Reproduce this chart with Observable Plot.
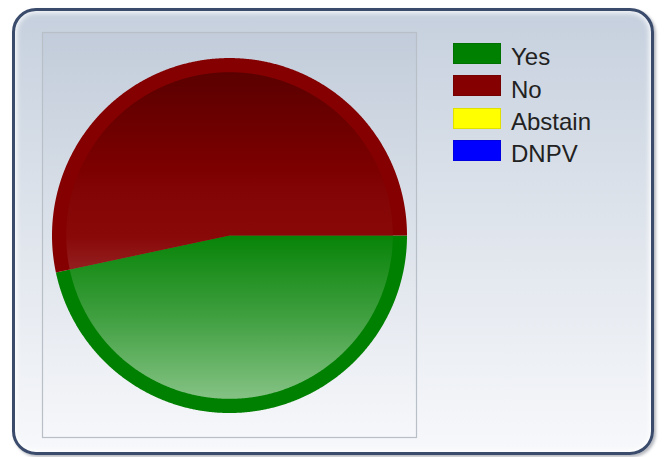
<!DOCTYPE html>
<html>
<head>
<meta charset="utf-8">
<script src="https://cdn.jsdelivr.net/npm/d3@7"></script>
<script src="https://cdn.jsdelivr.net/npm/@observablehq/plot@0.6"></script>
<style>
  html, body { margin: 0; padding: 0; background: #ffffff; }
  #wrap { position: relative; width: 664px; height: 457px; overflow: hidden; }
  #frame {
    position: absolute; left: 12px; top: 8px; width: 642px; height: 447px;
    box-sizing: border-box; border: 3px solid #3a4b6c; border-radius: 24px;
    background: linear-gradient(180deg, #c6d0de 0%, #dde3eb 45%, #f7f8fb 100%);
    box-shadow: inset 0 0 5px 2px rgba(255,255,255,0.85), 2px 2px 3px rgba(40,50,70,0.35);
  }
  #chart { position: absolute; left: 0; top: 0; }
  .sw { position: absolute; left: 453px; width: 48px; height: 21px; box-sizing: border-box; border: 1px solid rgba(0,0,0,0.12); }
  .lab { position: absolute; left: 511px; font: 24px "Liberation Sans", Arial, sans-serif; line-height: 24px; color: #222; }
</style>
</head>
<body>
<div id="wrap">
  <div id="frame"></div>
  <div id="chart"></div>
  <div id="legend"></div>
</div>
<script>
// ---- data ----
const categories = ["Yes", "No", "Abstain", "DNPV"];
const values = [7, 8, 0, 0];
const colors = ["#008000", "#850000", "#ffff00", "#0000ff"];

// ---- geometry helpers (pie angles from d3.pie, drawn through Plot scales) ----
const R = 1, rInner = 0.92;
const pie = d3.pie().sort(null).startAngle(Math.PI / 2).endAngle(Math.PI / 2 + 2 * Math.PI);
const arcs = pie(values).map((a, i) => ({...a, key: categories[i]})).filter(a => a.value > 0);

function slicePoints(arc, rad) {
  const pts = [{x: 0, y: 0, key: arc.key}];
  const n = Math.max(2, Math.ceil((arc.endAngle - arc.startAngle) / 0.005));
  for (let i = 0; i <= n; i++) {
    const a = arc.startAngle + (arc.endAngle - arc.startAngle) * i / n;
    pts.push({x: rad * Math.sin(a), y: rad * Math.cos(a), key: arc.key});
  }
  pts.push({x: 0, y: 0, key: arc.key});
  return pts;
}
const outerPts = arcs.flatMap(a => slicePoints(a, R));
const innerPts = arcs.flatMap(a => slicePoints(a, rInner));
const diskPts = slicePoints({startAngle: 0, endAngle: 2 * Math.PI, key: "disk"}, rInner).slice(1, -1);

// pixel layout: plot area 42..416 x 32..437, pie radius ~177px
const W = 664, H = 457;
const mL = 42, mR = W - 416, mT = 32, mB = H - 437;
const pxR = 177.5;
const hw = (W - mL - mR) / 2 / pxR, hh = (H - mT - mB) / 2 / pxR;

const plot = Plot.plot({
  width: W, height: H,
  marginLeft: mL, marginRight: mR, marginTop: mT, marginBottom: mB,
  style: {background: "transparent", overflow: "visible"},
  x: {domain: [-hw, hw], axis: null},
  y: {domain: [-hh + 0.003, hh + 0.003], axis: null},
  color: {domain: categories, range: colors},
  marks: [
    Plot.frame({fill: "url(#plotBg)", stroke: "#b9bfc7", strokeWidth: 1.2}),
    Plot.line(outerPts, {x: "x", y: "y", z: "key", fill: "key", stroke: "none", curve: "linear"}),
    Plot.line(innerPts, {x: "x", y: "y", z: "key", fill: "key", stroke: "none", curve: "linear"}),
    Plot.line(diskPts, {x: "x", y: "y", fill: "url(#shade)", stroke: "none", curve: "linear"})
  ]
});

const defs = d3.select(plot).insert("defs", ":first-child");
const bg = defs.append("linearGradient").attr("id", "plotBg").attr("x1", 0).attr("y1", 0).attr("x2", 0).attr("y2", 1);
bg.append("stop").attr("offset", "0%").attr("stop-color", "#c2ccda");
bg.append("stop").attr("offset", "50%").attr("stop-color", "#dce2ea");
bg.append("stop").attr("offset", "100%").attr("stop-color", "#f6f7fa");
const sh = defs.append("linearGradient").attr("id", "shade").attr("x1", 0).attr("y1", 0).attr("x2", 0).attr("y2", 1);
[[0, "#000", 0.32], [0.3, "#000", 0.06], [0.5, "#fff", 0.03], [0.75, "#fff", 0.25], [1, "#fff", 0.52]]
  .forEach(([o, c, op]) => sh.append("stop").attr("offset", o).attr("stop-color", c).attr("stop-opacity", op));

document.getElementById("chart").appendChild(plot);

// legend
const leg = document.getElementById("legend");
categories.forEach((c, i) => {
  const top = 43 + i * 32.3;
  const s = document.createElement("div");
  s.className = "sw"; s.style.top = top + "px"; s.style.background = colors[i];
  leg.appendChild(s);
  const t = document.createElement("div");
  t.className = "lab"; t.style.top = (top + 2.4) + "px"; t.textContent = c;
  leg.appendChild(t);
});
</script>
</body>
</html>
